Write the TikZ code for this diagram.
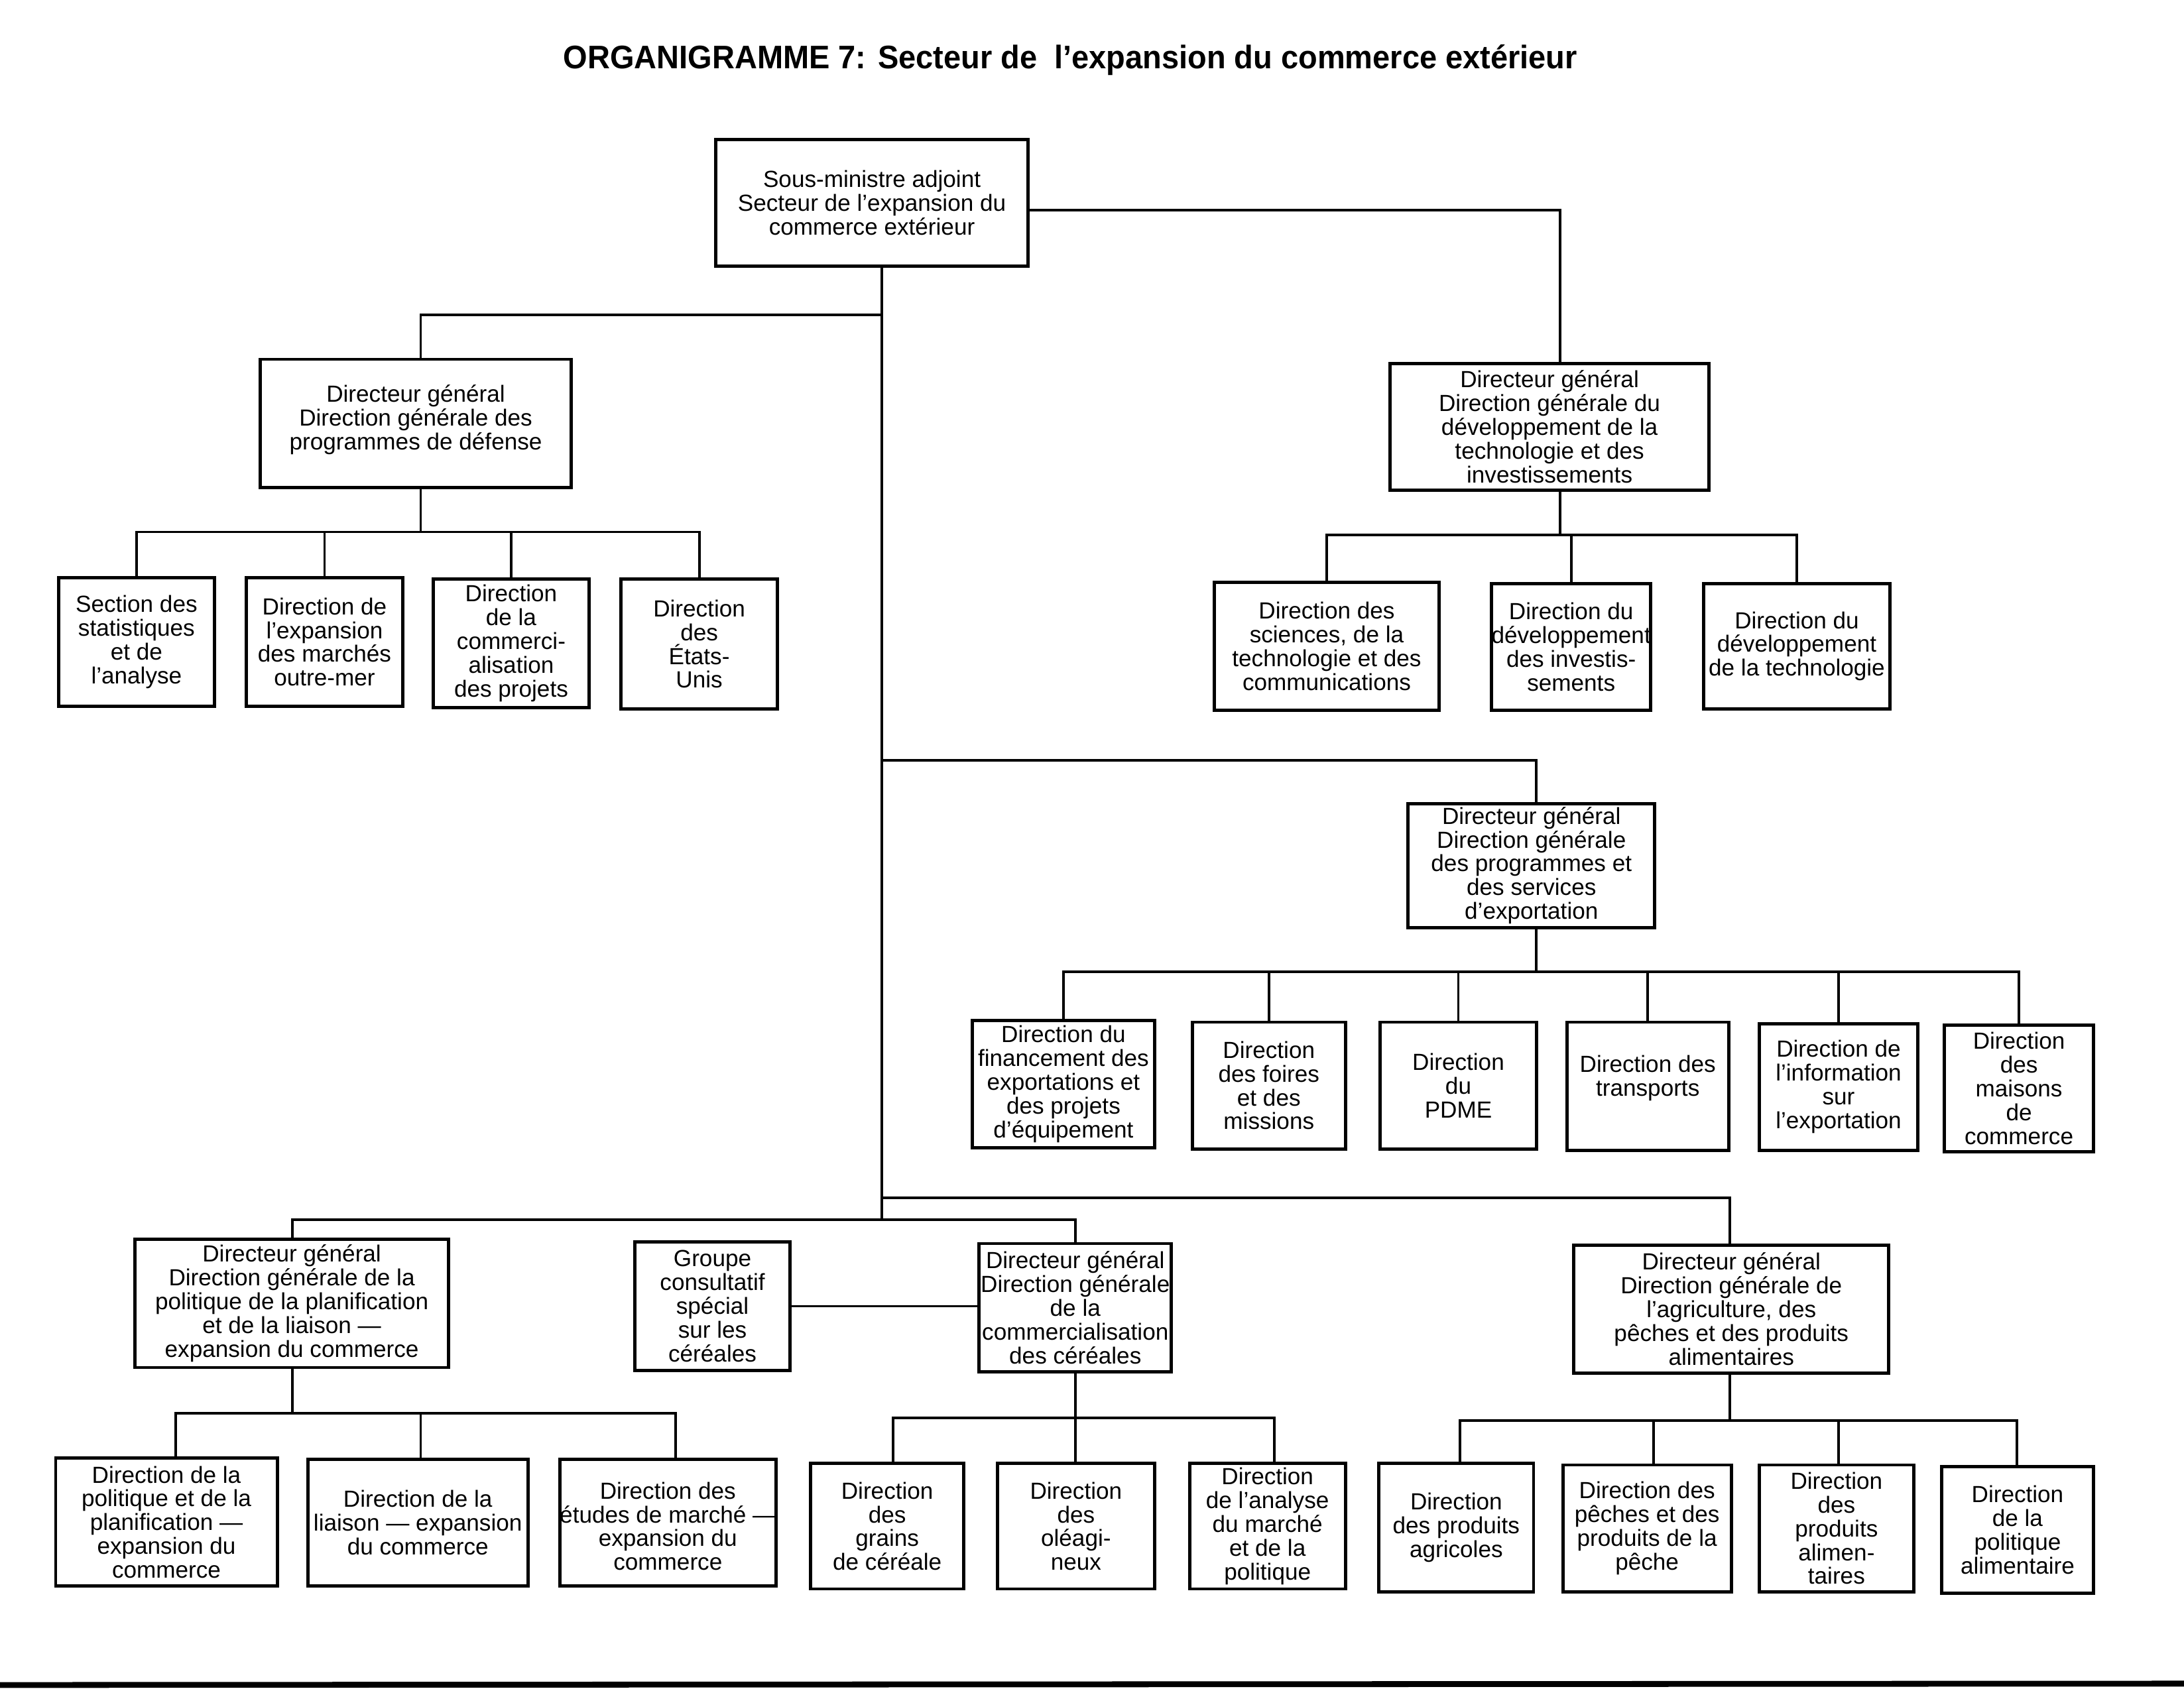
\documentclass[tikz,border=0pt]{standalone}
\usepackage{fontspec}
\usepackage{graphicx}
\setmainfont{Liberation Sans}
\usetikzlibrary{fit}
\newcommand\bxfont{\fontsize{10}{10.2}\selectfont}
% \bx[text shift]{name}{fit corners}{text}
\newcommand\bx[4][0pt]{%
  \node[box, fit={#3}] (#2) {};
  \node[txt] (#2-t) at ([yshift=#1]#2.center) {#4};}
\begin{document}
\begin{tikzpicture}[x=0.021008cm,y=-0.021008cm,
  box/.style={draw, line width=1.4pt, inner sep=0pt},
  txt/.style={inner sep=0pt, align=center, font=\bxfont},
  link/.style={line width=1.1pt},
  ttl/.style={font=\bfseries\fontsize{14}{16}\selectfont}]
\useasboundingbox (0,0) rectangle (1568,1214.3);
\fill[white] (0,0) rectangle (1568,1214.3);

\node[ttl] (title) at (768.5,43) {\scalebox{0.955}[1]{ORGANIGRAMME 7: Secteur de\ \ l’expansion du commerce extérieur}};

% ---- top
\bx{T}{(514,100)(738,191)}{Sous-ministre adjoint\\Secteur de l’expansion du\\commerce extérieur}

% ---- defence
\bx[1.5pt]{D}{(187,258)(410,350)}{Directeur général\\Direction générale des\\programmes de défense}
\bx{D1}{(42,415)(154,507)}{Section des\\statistiques\\et de\\l’analyse}
\bx{D2}{(177,415)(289,507)}{Direction de\\l’expansion\\des marchés\\outre-mer}
\bx{D3}{(311,416)(423,508)}{Direction\\de la\\commerci-\\alisation\\des projets}
\bx{D4}{(446,416)(558,509)}{Direction\\des\\États-\\Unis}

% ---- technology
\bx{TK}{(998,261)(1227,352)}{Directeur général\\Direction générale du\\développement de la\\technologie et des\\investissements}
\bx{TK1}{(872,418)(1033,510)}{Direction des\\sciences, de la\\technologie et des\\communications}
\bx{TK2}{(1071,419)(1185,510)}{Direction du\\développement\\des investis-\\sements}
\bx{TK3}{(1223,419)(1357,509)}{Direction du\\développement\\de la technologie}

% ---- export
\bx{E}{(1011,577)(1188,666)}{Directeur général\\Direction générale\\des programmes et\\des services\\d’exportation}
\bx{E1}{(698,733)(829,824)}{Direction du\\financement des\\exportations et\\des projets\\d’équipement}
\bx{E2}{(856,734)(966,825)}{Direction\\des foires\\et des\\missions}
\bx{E3}{(991,734)(1103,825)}{Direction\\du\\PDME}
\bx[3.5pt]{E4}{(1125,734)(1241,826)}{Direction des\\transports}
\bx{E5}{(1263,735)(1377,826)}{Direction de\\l’information\\sur\\l’exportation}
\bx{E6}{(1396,736)(1503,827)}{Direction\\des\\maisons\\de\\commerce}

% ---- policy
\bx{P}{(97,890)(322,982)}{Directeur général\\Direction générale de la\\politique de la planification\\et de la liaison —\\expansion du commerce}
\bx{P1}{(40,1047)(199,1139)}{Direction de la\\politique et de la\\planification —\\expansion du\\commerce}
\bx{P2}{(221,1048)(379,1139)}{Direction de la\\liaison — expansion\\du commerce}
\bx[-1.5pt]{P3}{(402,1048)(557,1139)}{Direction des\\études de marché —\\expansion du\\commerce}

% ---- grains
\bx{G}{(456,892)(567,984)}{Groupe\\consultatif\\spécial\\sur les\\céréales}
\bx{C}{(703,893)(841,985)}{Directeur général\\Direction générale\\de la\\commercialisation\\des céréales}
\bx{C1}{(582,1051)(692,1141)}{Direction\\des\\grains\\de céréale}
\bx{C2}{(716,1051)(829,1141)}{Direction\\des\\oléagi-\\neux}
\bx{C3}{(854,1051)(966,1141)}{Direction\\de l’analyse\\du marché\\et de la\\politique}

% ---- agriculture
\bx{A}{(1130,894)(1356,986)}{Directeur général\\Direction générale de\\l’agriculture, des\\pêches et des produits\\alimentaires}
\bx{A1}{(990,1051)(1101,1143)}{Direction\\des produits\\agricoles}
\bx{A2}{(1122,1052)(1243,1143)}{Direction des\\pêches et des\\produits de la\\pêche}
\bx{A3}{(1263,1052)(1374,1143)}{Direction\\des\\produits\\alimen-\\taires}
\bx{A4}{(1394,1053)(1503,1144)}{Direction\\de la\\politique\\alimentaire}

% ---- junction coordinates
\coordinate (tA) at (633,226);
\coordinate (tB) at (633,546);
\coordinate (tC) at (633,860);
\coordinate (tD) at (633,876);
\coordinate (Tr) at (738,151);
\coordinate (Db) at (302,382);
\coordinate (TKb) at (1120,384);
\coordinate (Eb) at (1103,698);
\coordinate (Pb) at (210,1015);
\coordinate (Cb) at (772,1018);
\coordinate (Ab) at (1242,1020);

% ---- trunk and branches
\draw[link] (T.south -| tA) -- (tD);
\draw[link] (tA) -| (D.north -| Db);
\draw[link] (T.east |- Tr) -| (TK.north -| TKb);
\draw[link] (tB) -| (E.north -| Eb);
\draw[link] (tC) -| (A.north -| Ab);
\draw[link] (P.north -| Pb) -- (Pb |- tD) -- (Cb |- tD) -- (C.north -| Cb);
\draw[link] (G.east) -- (G.east -| C.west);

% ---- defence children
\draw[link] (D.south -| Db) -- (Db);
\draw[link] (D1.north) -- (D1.north |- Db) -- (D4.north |- Db) -- (D4.north);
\draw[link] (D2.north) -- (D2.north |- Db);
\draw[link] (D3.north) -- (D3.north |- Db);

% ---- technology children
\draw[link] (TK.south -| TKb) -- (TKb);
\draw[link] (TK1.north) -- (TK1.north |- TKb) -- (TK3.north |- TKb) -- (TK3.north);
\draw[link] (TK2.north) -- (TK2.north |- TKb);

% ---- export children
\draw[link] (E.south -| Eb) -- (Eb);
\draw[link] (E1.north) -- (E1.north |- Eb) -- (E6.north |- Eb) -- (E6.north);
\draw[link] (E2.north) -- (E2.north |- Eb);
\draw[link] (E3.north) -- (E3.north |- Eb);
\draw[link] (E4.north) -- (E4.north |- Eb);
\draw[link] (E5.north) -- (E5.north |- Eb);

% ---- policy children
\coordinate (p1) at (126,1015);
\coordinate (p2) at (302,1015);
\coordinate (p3) at (485,1015);
\draw[link] (P.south -| Pb) -- (Pb);
\draw[link] (P1.north -| p1) -- (p1) -- (p3) -- (P3.north -| p3);
\draw[link] (P2.north -| p2) -- (p2);

% ---- grains children
\coordinate (c1) at (641,1018);
\coordinate (c3) at (915,1018);
\draw[link] (C.south -| Cb) -- (Cb);
\draw[link] (C1.north -| c1) -- (c1) -- (c3) -- (C3.north -| c3);
\draw[link] (C2.north -| Cb) -- (Cb);

% ---- agriculture children
\coordinate (a1) at (1048,1020);
\coordinate (a2) at (1187,1020);
\coordinate (a3) at (1320,1020);
\coordinate (a4) at (1448,1020);
\draw[link] (A.south -| Ab) -- (Ab);
\draw[link] (A1.north -| a1) -- (a1) -- (a4) -- (A4.north -| a4);
\draw[link] (A2.north -| a2) -- (a2);
\draw[link] (A3.north -| a3) -- (a3);

% ---- scan edge at bottom
\draw[line width=2.5pt] (0,1210) -- (1568,1209);
\end{tikzpicture}
\end{document}
